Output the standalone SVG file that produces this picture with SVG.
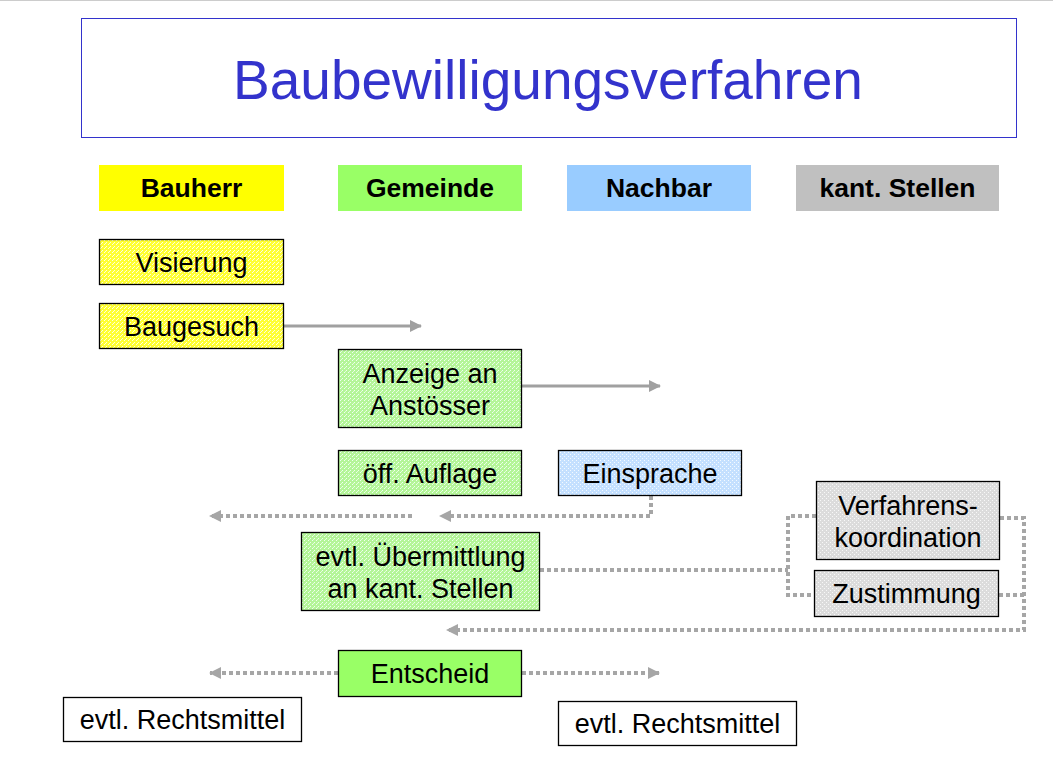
<svg xmlns="http://www.w3.org/2000/svg" width="1053" height="763" viewBox="0 0 1053 763">
<defs>
<style>
.t{font-family:"Liberation Sans",Arial,sans-serif;font-size:27px;fill:#000;text-anchor:middle}
.h{font-family:"Liberation Sans",Arial,sans-serif;font-size:26.5px;font-weight:bold;fill:#000;text-anchor:middle}
.b{stroke:#000;stroke-width:1.3}
.s{fill:none;stroke:#a0a0a0;stroke-width:3}
.d{fill:none;stroke:#a6a6a6;stroke-width:4;stroke-dasharray:4 3}
</style>
<pattern id="py" width="4" height="4" patternUnits="userSpaceOnUse"><rect width="4" height="4" fill="#ffff33"/><rect x="0" y="0" width="1" height="1" fill="#ffffdd"/><rect x="2" y="2" width="1" height="1" fill="#ffffdd"/><rect x="1" y="3" width="1" height="1" fill="#ffffdd"/></pattern>
<pattern id="pg" width="4" height="4" patternUnits="userSpaceOnUse"><rect width="4" height="4" fill="#b4f598"/><rect x="0" y="0" width="1" height="1" fill="#f0fff0"/><rect x="2" y="2" width="1" height="1" fill="#f0fff0"/><rect x="1" y="3" width="1" height="1" fill="#e0ffd8"/></pattern>
<pattern id="pb" width="4" height="4" patternUnits="userSpaceOnUse"><rect width="4" height="4" fill="#c4e0ff"/><rect x="0" y="0" width="1" height="1" fill="#f4faff"/><rect x="2" y="2" width="1" height="1" fill="#f4faff"/></pattern>
<pattern id="pr" width="4" height="4" patternUnits="userSpaceOnUse"><rect width="4" height="4" fill="#dcdcdc"/><rect x="0" y="0" width="1" height="1" fill="#f8f8f8"/><rect x="2" y="2" width="1" height="1" fill="#f8f8f8"/></pattern>
<marker id="a" markerWidth="12" markerHeight="12" refX="11" refY="6" orient="auto" markerUnits="userSpaceOnUse"><path d="M0,0 L12,6 L0,12 Z" fill="#a0a0a0"/></marker>
<marker id="ad" markerWidth="12" markerHeight="12" refX="11" refY="6" orient="auto" markerUnits="userSpaceOnUse"><path d="M0,0 L12,6 L0,12 Z" fill="#a6a6a6"/></marker>
</defs>
<rect width="1053" height="763" fill="#fff"/>
<line x1="0" y1="0.5" x2="1053" y2="0.5" stroke="#cccccc" stroke-width="1"/>
<g id="title">
<rect x="81.5" y="18.5" width="935" height="119" fill="#fff" stroke="#3333cc" stroke-width="1"/>
<text x="548" y="99" font-family="Liberation Sans,Arial,sans-serif" font-size="55" fill="#3333cc" text-anchor="middle">Baubewilligungsverfahren</text>
</g>
<g id="h-bauherr"><rect x="99" y="165" width="185" height="46" fill="#ffff00"/><text class="h" x="191.5" y="197">Bauherr</text></g>
<g id="h-gemeinde"><rect x="338" y="165" width="184" height="46" fill="#99ff66"/><text class="h" x="430" y="197">Gemeinde</text></g>
<g id="h-nachbar"><rect x="567" y="165" width="184" height="46" fill="#99ccff"/><text class="h" x="659" y="197">Nachbar</text></g>
<g id="h-kant"><rect x="796" y="165" width="203" height="46" fill="#c0c0c0"/><text class="h" x="897.5" y="197">kant. Stellen</text></g>
<g id="connectors">
<line class="s" x1="284" y1="326" x2="421" y2="326" marker-end="url(#a)"/>
<line class="s" x1="522" y1="386" x2="660" y2="386" marker-end="url(#a)"/>
<polyline class="d" points="651,496 651,516 440,516" marker-end="url(#ad)"/>
<line class="d" x1="412" y1="516" x2="210" y2="516" marker-end="url(#ad)"/>
<line class="d" x1="540" y1="570" x2="788" y2="570"/>
<polyline class="d" points="816,516 788,516 788,595 814,595"/>
<polyline class="d" points="1000,518 1024,518 1024,630 447,630" marker-end="url(#ad)"/>
<line class="d" x1="999" y1="595" x2="1024" y2="595"/>
<line class="d" x1="338" y1="673" x2="210" y2="673" marker-end="url(#ad)"/>
<line class="d" x1="522" y1="673" x2="659" y2="673" marker-end="url(#ad)"/>
</g>
<g id="visierung"><rect class="b" x="99.5" y="239.5" width="184" height="45" fill="url(#py)"/><text class="t" x="191.5" y="272">Visierung</text></g>
<g id="baugesuch"><rect class="b" x="99.5" y="303.5" width="184" height="45" fill="url(#py)"/><text class="t" x="191.5" y="336">Baugesuch</text></g>
<g id="anzeige"><rect class="b" x="338.5" y="349.5" width="183" height="78" fill="url(#pg)"/><text class="t" x="430" y="383">Anzeige an</text><text class="t" x="430" y="415">Anstösser</text></g>
<g id="auflage"><rect class="b" x="338.5" y="450.5" width="183" height="45" fill="url(#pg)"/><text class="t" x="430" y="483">öff. Auflage</text></g>
<g id="einsprache"><rect class="b" x="558.5" y="450.5" width="183" height="45" fill="url(#pb)"/><text class="t" x="650" y="483">Einsprache</text></g>
<g id="uebermittlung"><rect class="b" x="301.5" y="532.5" width="238" height="78" fill="url(#pg)"/><text class="t" x="420.5" y="566">evtl. Übermittlung</text><text class="t" x="420.5" y="598">an kant. Stellen</text></g>
<g id="verfahren"><rect class="b" x="816.5" y="481.5" width="183" height="78" fill="url(#pr)"/><text class="t" x="908" y="515">Verfahrens-</text><text class="t" x="908" y="547">koordination</text></g>
<g id="zustimmung"><rect class="b" x="814.5" y="570.5" width="184" height="46" fill="url(#pr)"/><text class="t" x="906.5" y="603">Zustimmung</text></g>
<g id="entscheid"><rect class="b" x="338.5" y="650.5" width="183" height="46" fill="#99ff66"/><text class="t" x="430" y="683">Entscheid</text></g>
<g id="rechtsmittel-l"><rect class="b" x="63.5" y="697.5" width="238" height="44" fill="#fff"/><text class="t" x="182.5" y="729">evtl. Rechtsmittel</text></g>
<g id="rechtsmittel-r"><rect class="b" x="558.5" y="701.5" width="238" height="44" fill="#fff"/><text class="t" x="677.5" y="733">evtl. Rechtsmittel</text></g>
</svg>
